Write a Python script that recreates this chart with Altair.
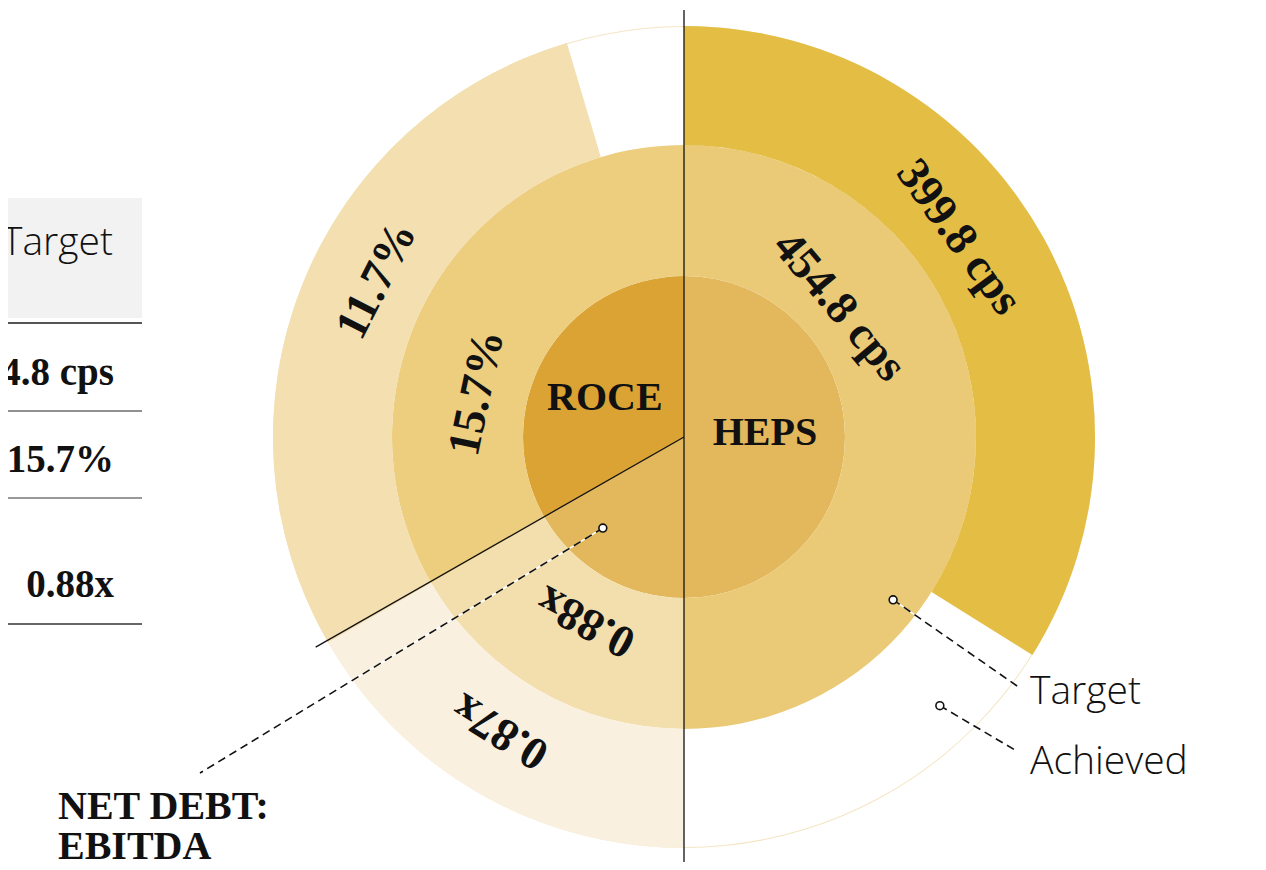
import math
import altair as alt
import pandas as pd

# ---------------- values ----------------
metrics = ["HEPS", "NET DEBT: EBITDA", "ROCE"]
centre_labels = ["HEPS", "", "ROCE"]
target_labels = ["454.8 cps", "0.88x", "15.7%"]
achieved_labels = ["399.8 cps", "0.87x", "11.7%"]
sector_start = [0, 180, 240]          # degrees, clockwise from 12 o'clock
sector_end = [180, 240, 360]
achieved_share = [0.678, 1.0, 0.862]  # share of each sector covered by the achieved ring

table_header = "Target"
table_values = ["454.8 cps", "15.7%", "0.88x"]
legend_labels = ["Target", "Achieved"]
callout_lines = ["NET DEBT:", "EBITDA"]

# ---------------- layout (pixel units, origin at the wheel centre, y up) ----------------
W, H = 1250, 854
XS = alt.Scale(domain=[-676, 574], nice=False, zero=False)
YS = alt.Scale(domain=[-425, 429], nice=False, zero=False)
R_INNER, R_TARGET, R_OUTER = 161, 292, 411
ring_radii = {"inner": (0, R_INNER), "target": (R_INNER, R_TARGET), "achieved": (R_TARGET, R_OUTER)}
centre_label_r = [81, 0, 88]
centre_label_t = [87, 0, 296]
target_label_r = [203, 209, 212]
target_label_t = [50, 208, 282]
achieved_label_r = [340, 347, 345]
achieved_label_t = [54, 212, 297]
divider_t = [0, 180, 240.3]
divider_len = [427, 425, 424]
leader_anchor_r = [122, 265, 371]
leader_anchor_t = [221.7, 127.9, 136.4]
leader_end_x = [-484, 336, 331]
leader_end_y = [-336, -251, -313]
legend_x, legend_y = 346, [-255, -325]
callout_x, callout_y = -626, [-370, -410]
table_x0, table_x1, table_text_x = -684, -542, -570
table_header_y = (239, 119, 194)
table_rule_y = [114, 26, -61, -187]
table_rule_w = [2.2, 1.2, 1.6, 2.2]
table_rule_c = ["#555555", "#222222", "#777777", "#666666"]
table_value_y = [64, -23, -148]

SERIF = "Liberation Serif"
SANS = "Open Sans"

seg_keys, palette = [], []
colours = {
    "inner": ["#E3B75B", "#E3B75B", "#DBA334"],
    "target": ["#EACA76", "#F3DFAE", "#EDCE7F"],
    "achieved": ["#E4BD45", "#FAF0E0", "#F3DFAF"],
}

rows = []
for ring in ["inner", "target", "achieved"]:
    for i, m in enumerate(metrics):
        t0 = sector_start[i]
        t1 = sector_end[i]
        if ring == "achieved":
            t1 = t0 + achieved_share[i] * (sector_end[i] - sector_start[i])
        key = f"{m} | {ring}"
        seg_keys.append(key)
        palette.append(colours[ring][i])
        rows.append({"seg": key, "t0": t0, "t1": t1,
                     "r0": ring_radii[ring][0], "r1": ring_radii[ring][1]})
arc_df = pd.DataFrame(rows)

polar_x = "datum.r * sin(datum.t * PI / 180)"
polar_y = "datum.r * cos(datum.t * PI / 180)"

def XY(xf="x", yf="y"):
    return dict(x=alt.X(f"{xf}:Q", scale=XS, axis=None),
                y=alt.Y(f"{yf}:Q", scale=YS, axis=None))

theta_scale = alt.Scale(domain=[0, 360], range=[0, 2 * math.pi])
rad_scale = alt.Scale(type="linear", domain=[0, 500], range=[0, 500], zero=True)

# faint outline of the outer ring
track = alt.Chart(pd.DataFrame({"t0": [0], "t1": [360], "r0": [R_OUTER - 1.0], "r1": [R_OUTER]})).mark_arc(
    color="#F4E6C4").transform_calculate(x="0", y="0").encode(
    theta=alt.Theta("t0:Q", scale=theta_scale, stack=False), theta2="t1:Q",
    radius=alt.Radius("r1:Q", scale=rad_scale), radius2="r0:Q", **XY())

arcs = alt.Chart(arc_df).mark_arc().transform_calculate(x="0", y="0").encode(
    theta=alt.Theta("t0:Q", scale=theta_scale, stack=False), theta2="t1:Q",
    radius=alt.Radius("r1:Q", scale=rad_scale), radius2="r0:Q",
    color=alt.Color("seg:N", scale=alt.Scale(domain=seg_keys, range=palette), legend=None),
    **XY())

div_df = pd.DataFrame({"t": divider_t, "r": divider_len})
dividers = alt.Chart(div_df).mark_rule(color="#111111", strokeWidth=1.3).transform_calculate(
    x0="0", y0="0", x=polar_x, y=polar_y).encode(
    x=alt.X("x0:Q", scale=XS, axis=None), y=alt.Y("y0:Q", scale=YS, axis=None),
    x2="x:Q", y2="y:Q")

def ring_text(labels, rs, ts, size):
    df = pd.DataFrame({"label": labels, "r": rs, "t": ts})
    return alt.Chart(df).mark_text(font=SERIF, fontWeight="bold", fontSize=size, color="#111111",
                                   align="center", baseline="middle").transform_calculate(
        x=polar_x, y=polar_y, ang="datum.t").encode(
        text="label:N", angle=alt.Angle("ang:Q", scale=None), **XY())

t_target = ring_text(target_labels, target_label_r, target_label_t, 46)
t_achieved = ring_text(achieved_labels, achieved_label_r, achieved_label_t, 46)

cdf = pd.DataFrame({"label": centre_labels, "r": centre_label_r, "t": centre_label_t})
t_centre = alt.Chart(cdf).transform_filter("datum.label != ''").transform_calculate(
    x=polar_x, y=polar_y).mark_text(font=SERIF, fontWeight="bold", fontSize=40, color="#111111",
                                    align="center", baseline="middle").encode(text="label:N", **XY())

# leader lines
ldf = pd.DataFrame({"name": ["NET DEBT: EBITDA", "Target", "Achieved"], "r": leader_anchor_r,
                    "t": leader_anchor_t, "ex": leader_end_x, "ey": leader_end_y})
lbase = alt.Chart(ldf).transform_calculate(x=polar_x, y=polar_y)
leader_under = lbase.mark_rule(color="white", strokeWidth=1.6).encode(x2="ex:Q", y2="ey:Q", **XY())
leader = lbase.mark_rule(color="#111111", strokeWidth=1.6, strokeDash=[8, 5]).encode(
    x2="ex:Q", y2="ey:Q", **XY())
anchors = lbase.mark_point(shape="circle", filled=True, size=62, color="white", opacity=1).encode(**XY())
anchors_ring = lbase.mark_point(shape="circle", filled=False, size=62, strokeWidth=1.6,
                                color="#111111", opacity=1).encode(**XY())

legend_df = pd.DataFrame({"label": legend_labels, "x": [legend_x] * 2, "y": legend_y})
t_legend = alt.Chart(legend_df).mark_text(font=SANS, fontWeight=300, fontSize=39, color="#111111",
                                          align="left", baseline="middle").encode(text="label:N", **XY())

call_df = pd.DataFrame({"label": callout_lines, "x": [callout_x] * 2, "y": callout_y})
t_call = alt.Chart(call_df).mark_text(font=SERIF, fontWeight="bold", fontSize=40, color="#111111",
                                      align="left", baseline="middle").encode(text="label:N", **XY())

# partial table on the left
hdr_df = pd.DataFrame({"x": [table_x0], "x2": [table_x1], "y": [table_header_y[0]], "y2": [table_header_y[1]]})
t_hdr_box = alt.Chart(hdr_df).mark_rect(color="#F2F2F2").encode(x2="x2:Q", y2="y2:Q", **XY())
hdr_txt = alt.Chart(pd.DataFrame({"label": [table_header], "x": [table_text_x - 1], "y": [table_header_y[2]]})).mark_text(
    font=SANS, fontWeight=300, fontSize=39, color="#111111", align="right", baseline="middle").encode(
    text="label:N", **XY())
rule_df = pd.DataFrame({"y": table_rule_y, "x": [table_x0] * 4, "x2": [table_x1] * 4,
                        "w": table_rule_w, "c": table_rule_c})
t_rules = alt.Chart(rule_df).mark_rule().encode(
    x2="x2:Q", strokeWidth=alt.StrokeWidth("w:Q", scale=None), color=alt.Color("c:N", scale=None),
    **XY())
val_df = pd.DataFrame({"label": table_values, "x": [table_text_x] * 3, "y": table_value_y})
t_vals = alt.Chart(val_df).mark_text(font=SERIF, fontWeight="bold", fontSize=39, color="#111111",
                                     align="right", baseline="middle").encode(text="label:N", **XY())

chart = alt.layer(
    t_hdr_box, t_rules, hdr_txt, t_vals,
    track, arcs, dividers, t_centre, t_target, t_achieved,
    leader_under, leader, anchors, anchors_ring, t_legend, t_call,
).properties(width=W, height=H, padding=0, autosize=alt.AutoSizeParams(type="none")).configure_view(
    strokeWidth=0)

chart.save("out.html", embed_options={"renderer": "svg", "actions": False})
